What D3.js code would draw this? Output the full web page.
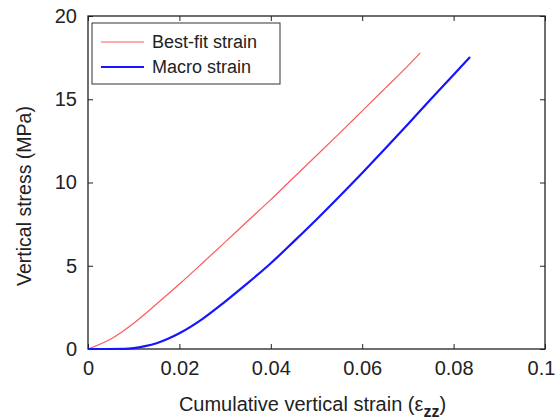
<!DOCTYPE html>
<html><head><meta charset="utf-8">
<script src="https://cdn.jsdelivr.net/npm/d3@7"></script>
<style>body{margin:0;background:#fff}svg{display:block}text{font-family:"Liberation Sans",Arial,sans-serif;fill:#222}</style>
</head><body><svg id="c" width="557" height="420"></svg>
<script>
const seriesNames = ["Best-fit strain", "Macro strain"];
const bestFitStrain = [0,0.005,0.01,0.015,0.02,0.025,0.03,0.035,0.04,0.045,0.05,0.055,0.06,0.065,0.07,0.0727];
const bestFitStress = [0,0.6,1.55,2.7,3.9,5.15,6.42,7.7,8.97,10.3,11.62,12.95,14.3,15.65,17.0,17.78];
const macroStrain = [0,0.004,0.008,0.01,0.0125,0.015,0.0175,0.02,0.025,0.03,0.035,0.04,0.045,0.05,0.055,0.06,0.065,0.07,0.075,0.08,0.0836];
const macroStress = [0,0,0.01,0.05,0.17,0.35,0.62,0.95,1.8,2.85,3.97,5.15,6.45,7.78,9.16,10.57,12.02,13.5,15.0,16.47,17.54];
const xTicks = [0,0.02,0.04,0.06,0.08,0.1];
const xTickLabels = ["0","0.02","0.04","0.06","0.08","0.1"];
const yTicks = [0,5,10,15,20];
const yTickLabels = ["0","5","10","15","20"];

const svg = d3.select("#c");
const L=88,R=545,T=16,B=349;
const x = d3.scaleLinear().domain([0,0.1]).range([L,R]);
const y = d3.scaleLinear().domain([0,20]).range([B,T]);

const fs = "20px";
const gx = svg.append("g").attr("transform",`translate(0,${B})`)
  .call(d3.axisBottom(x).tickValues(xTicks).tickFormat((d,i)=>xTickLabels[i]).tickSizeInner(-5).tickSizeOuter(0).tickPadding(12));
const gxt = svg.append("g").attr("transform",`translate(0,${T})`)
  .call(d3.axisTop(x).tickValues(xTicks).tickFormat("").tickSizeInner(-5).tickSizeOuter(0));
const gy = svg.append("g").attr("transform",`translate(${L},0)`)
  .call(d3.axisLeft(y).tickValues(yTicks).tickFormat((d,i)=>yTickLabels[i]).tickSizeInner(-5).tickSizeOuter(0).tickPadding(11));
const gyr = svg.append("g").attr("transform",`translate(${R},0)`)
  .call(d3.axisRight(y).tickValues(yTicks).tickFormat("").tickSizeInner(-5).tickSizeOuter(0));
[gx,gxt,gy,gyr].forEach(g=>{
  g.select(".domain").remove();
  g.selectAll("line").attr("stroke","#222");
  g.selectAll("text").style("font-size",fs).attr("fill","#222").style("font-family",'"Liberation Sans",Arial,sans-serif');
});
gx.selectAll(".tick text").filter(d=>d===0.1).attr("dx",-4);
svg.append("rect").attr("x",L).attr("y",T).attr("width",R-L).attr("height",B-T)
  .attr("fill","none").attr("stroke","#222").attr("stroke-width",1.3);

const line = d3.line().x(d=>x(d[0])).y(d=>y(d[1])).curve(d3.curveMonotoneX);
const red = bestFitStrain.map((v,i)=>[v,bestFitStress[i]]);
const blue = macroStrain.map((v,i)=>[v,macroStress[i]]);
svg.append("path").datum(red).attr("d",line).attr("fill","none").attr("stroke","#ff5a5a").attr("stroke-width",1.2);
svg.append("path").datum(blue).attr("d",line).attr("fill","none").attr("stroke","#1515ff").attr("stroke-width",2.2);

svg.append("rect").attr("x",92).attr("y",23).attr("width",188).attr("height",61)
  .attr("fill","#fff").attr("stroke","#333").attr("stroke-width",1);
const colors=["#ff5a5a","#1515ff"], widths=[1.2,2.2], ly=[42,67];
seriesNames.forEach((n,i)=>{
  svg.append("line").attr("x1",101).attr("x2",144).attr("y1",ly[i]).attr("y2",ly[i]).attr("stroke",colors[i]).attr("stroke-width",widths[i]);
  svg.append("text").attr("x",152).attr("y",ly[i]+6).style("font-size","18px").text(n);
});

const xt = svg.append("text").attr("x",(L+R)/2-4).attr("y",411).attr("text-anchor","middle").style("font-size",fs);
xt.append("tspan").text("Cumulative vertical strain (\u03B5");
xt.append("tspan").attr("dy",6).style("font-size","16px").style("font-weight","bold").text("zz");
xt.append("tspan").attr("dy",-6).text(")");
svg.append("text").attr("transform","translate(31,196) rotate(-90)").attr("text-anchor","middle").style("font-size","19.5px").text("Vertical stress (MPa)");
</script></body></html>
